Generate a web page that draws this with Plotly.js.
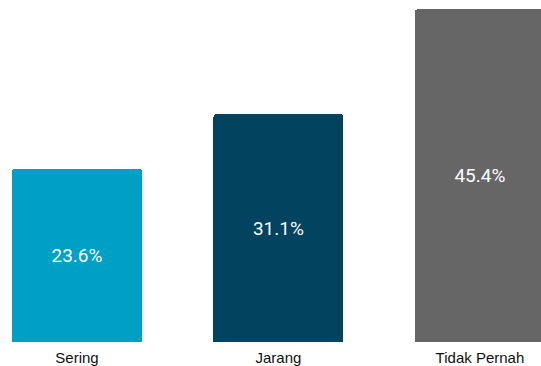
<!DOCTYPE html>
<html>
<head>
<meta charset="utf-8">
<script src="https://cdn.plot.ly/plotly-3.0.1.min.js"></script>
<style>html,body{margin:0;padding:0;background:#fff;}#chart{width:541px;height:366px;}</style>
</head>
<body>
<div id="chart"></div>
<script>
const categories = ["Sering", "Jarang", "Tidak Pernah"];
const values = [23.6, 31.1, 45.4];
const colors = ["#00A0C6", "#02435F", "#666666"];

const trace = {
  type: "bar",
  x: categories,
  y: values,
  width: 0.645,
  marker: { color: colors, cornerradius: 3 },
  text: values.map(v => v.toFixed(1) + "%"),
  textposition: "inside",
  insidetextanchor: "middle",
  textfont: { family: "Roboto, sans-serif", size: 19, color: "#ffffff" },
  hoverinfo: "none"
};

const layout = {
  width: 541, height: 366,
  margin: { l: 0, r: 0, t: 0, b: 24 },
  paper_bgcolor: "#ffffff", plot_bgcolor: "#ffffff",
  showlegend: false,
  bargap: 0,
  xaxis: {
    type: "category",
    range: [-0.382, 2.303],
    showgrid: false, zeroline: false, showline: false,
    ticks: "", ticklen: 0,
    ticklabelstandoff: 5,
    tickfont: { family: "Liberation Sans, Arial, sans-serif", size: 15, color: "#111111" }
  },
  yaxis: {
    range: [0, 46.66],
    visible: false, showgrid: false, zeroline: false
  }
};

Plotly.newPlot("chart", [trace], layout, { displayModeBar: false, staticPlot: true });
</script>
</body>
</html>
